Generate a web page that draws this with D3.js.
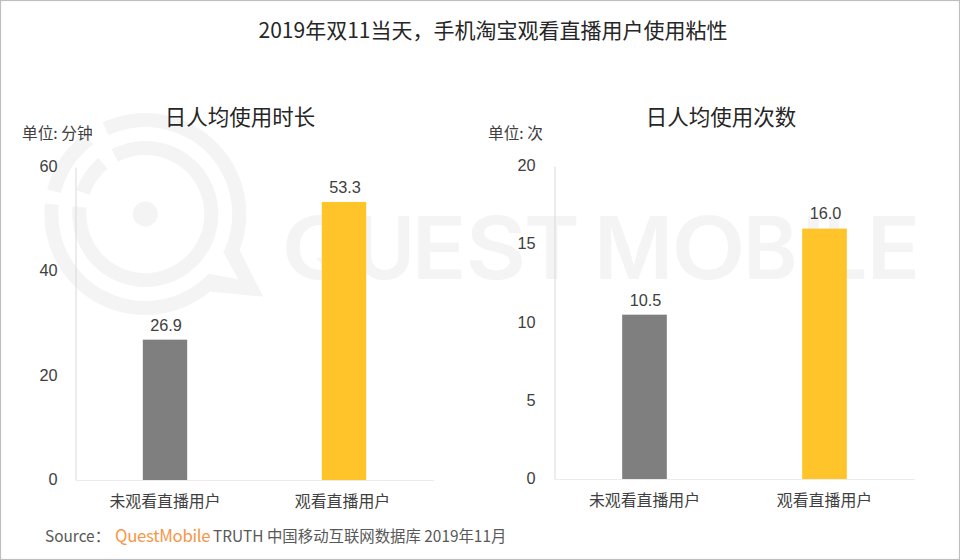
<!DOCTYPE html>
<html><head><meta charset="utf-8">
<script src="https://cdn.jsdelivr.net/npm/d3@7/dist/d3.min.js"></script>
<style>
html,body{margin:0;padding:0;background:#fff}
svg{display:block}
.cjk{font-family:"Noto Sans CJK SC","Noto Sans",sans-serif}
.num{font-family:"Liberation Sans",Arial,sans-serif}
</style></head><body><svg id="c" width="960" height="560"></svg>
<script>
const chartTitle = "2019年双11当天，手机淘宝观看直播用户使用粘性";
const categories = ["未观看直播用户", "观看直播用户"];
const durationValues = [26.9, 53.3];
const countValues = [10.5, 16.0];
const durationTicks = [0, 20, 40, 60];
const countTicks = [0, 5, 10, 15, 20];
const barColors = ["#7f7f7f", "#ffc429"];
const panelTitles = ["日人均使用时长", "日人均使用次数"];
const unitLabels = ["单位: 分钟", "单位: 次"];
const wmLetters = ["Q","U","E","S","T","M","O","B","I","L","E"];
const wmLeft  = [286,360,418,469,527,600,676,749,808,829,873];
const wmRight = [355,410,462,522,577,668,741,794,819,865,916];

const svg = d3.select("#c");
svg.append("rect").attr("width",960).attr("height",560).attr("fill","#fff");

// watermark
const wm = svg.append("g").attr("fill","#f4f4f4");
const cx = 145.3, cy = 214, deg = Math.PI/180;
const tail = d3.path();
tail.arc(cx,cy,101,-115*deg,21*deg,false);
tail.lineTo(263.3,296.7);
tail.lineTo(211.7,291.7);
tail.arc(cx,cy,101,49.5*deg,186*deg,false);
tail.arc(cx,cy,87,186*deg,43.3*deg,true);
tail.lineTo(238.3,279.3);
tail.lineTo(224,253.3);
tail.arc(cx,cy,87,26.6*deg,-115*deg,true);
tail.closePath();
wm.append("path").attr("d",tail.toString());
const arc = d3.arc();
const seg=(r0,r1,a0,a1)=>wm.append("path").attr("transform",`translate(${cx},${cy})`)
  .attr("d",arc({innerRadius:r0,outerRadius:r1,startAngle:(a0+90)*deg,endAngle:(a1+90)*deg}));
seg(87,101,-166,-127);
seg(59,73,-117.5,186);
seg(59,73,-161,-130);
wm.append("circle").attr("cx",cx).attr("cy",cy).attr("r",12.5);
const wmCtx = document.createElement("canvas").getContext("2d");
wmCtx.font = "600 86px Inter";
wmLetters.forEach((ch,i)=>{
  const m = wmCtx.measureText(ch);
  const ink = m.actualBoundingBoxRight + m.actualBoundingBoxLeft;
  const k = (wmRight[i]-wmLeft[i])/ink;
  wm.append("text").text(ch)
    .attr("transform",`translate(${wmLeft[i]+m.actualBoundingBoxLeft*k},278.5) scale(${k},1)`)
    .attr("font-family","Inter").attr("font-weight",600).attr("font-size",86);
});

// frame
svg.append("rect").attr("x",0.5).attr("y",0.5).attr("width",959).attr("height",559)
  .attr("fill","none").attr("stroke","#bfbfbf").attr("stroke-width",1.2);

svg.append("text").attr("class","cjk").attr("x",493).attr("y",30).attr("dy","0.36em")
  .attr("text-anchor","middle").attr("font-size",21).attr("fill","#262626").text(chartTitle);

function panel(values, ticks, maxV, x0, x1, y0, y1, pad, titleX, unitX, i, catShift){
  const x = d3.scaleBand().domain(categories).range([x0,x1]).paddingInner(0.752).paddingOuter(0.376);
  const y = d3.scaleLinear().domain([0,maxV]).range([y0,y1]);
  const g = svg.append("g");
  g.selectAll("rect.b").data(values).join("rect").attr("class","b")
    .attr("x",(d,j)=>x(categories[j])).attr("width",x.bandwidth())
    .attr("y",d=>y(d)).attr("height",d=>y(0)-y(d))
    .attr("fill",(d,j)=>barColors[j]);
  const ya = g.append("g").attr("transform",`translate(${x0},0)`)
    .call(d3.axisLeft(y).tickValues(ticks).tickSize(0).tickPadding(pad));
  ya.select(".domain").attr("stroke","#d9d9d9");
  ya.selectAll("text").attr("class","num").attr("font-size",16.3).attr("fill","#404040")
    .attr("font-family","Liberation Sans").attr("dy","0.28em");
  const xa = g.append("g").attr("transform",`translate(0,${y0})`)
    .call(d3.axisBottom(x).tickSize(0).tickPadding(16));
  xa.select(".domain").attr("stroke","#ececec");
  xa.selectAll("text").attr("font-size",15.9).attr("fill","#404040").attr("font-family","Noto Sans CJK SC")
    .attr("dx",(d,j)=>j===1?catShift:0);
  g.selectAll("text.v").data(values).join("text").attr("class","v num")
    .attr("x",(d,j)=>x(categories[j])+x.bandwidth()/2+1)
    .attr("y",d=>y(d)-15).attr("dy","0.36em").attr("text-anchor","middle")
    .attr("font-size",16.3).attr("fill","#404040").text(d=>d.toFixed(1));
  g.append("text").attr("class","cjk").attr("x",titleX).attr("y",117).attr("dy","0.36em")
    .attr("text-anchor","middle").attr("font-size",21.5).attr("fill","#262626").text(panelTitles[i]);
  g.append("text").attr("class","cjk").attr("x",unitX).attr("y",133).attr("dy","0.36em")
    .attr("font-size",15.7).attr("fill","#404040").text(unitLabels[i]);
}
panel(durationValues,durationTicks,60,75.5,433.5,480,167,18,240,22,0,-1.5);
panel(countValues,countTicks,20,554.5,914.5,479,166,19,721,488,1,0);

const sy = 536;
const s = (x,t,f)=>svg.append("text").attr("class","cjk").attr("x",x).attr("y",sy).attr("dy","0.36em")
  .attr("font-size",15.4).attr("fill",f).text(t);
s(45,"Source：","#595959");
s(115,"QuestMobile","#f79646").attr("font-size",16.8).attr("letter-spacing",-0.3);
s(213,"TRUTH 中国移动互联网数据库 2019年11月","#595959");
</script></body></html>
